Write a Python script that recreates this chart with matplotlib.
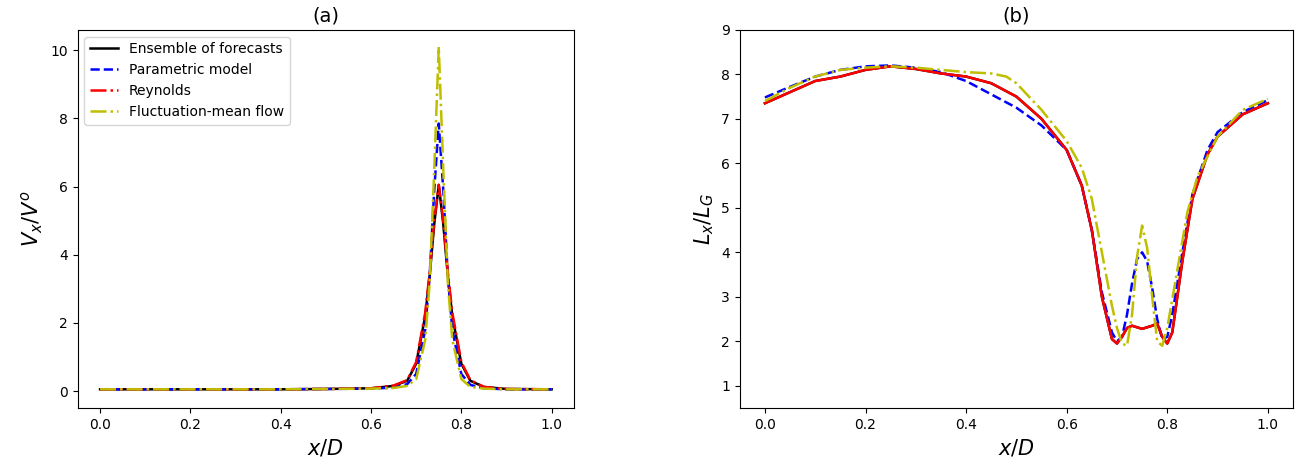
import matplotlib
matplotlib.use("Agg")
import matplotlib.pyplot as plt

# Panel (a)
xa = [0, 0.1, 0.2, 0.3, 0.4, 0.5, 0.6, 0.65, 0.68, 0.70, 0.72, 0.73, 0.74, 0.75, 0.76, 0.77, 0.78, 0.80, 0.82, 0.85, 0.9, 1.0]
ens_a = [0.05, 0.05, 0.05, 0.05, 0.05, 0.06, 0.08, 0.15, 0.3, 0.8, 2.2, 3.4, 4.9, 6.05, 4.9, 3.4, 2.2, 0.8, 0.3, 0.12, 0.06, 0.05]
par_a = [0.05, 0.05, 0.05, 0.05, 0.05, 0.06, 0.07, 0.1, 0.2, 0.5, 1.8, 3.4, 5.9, 7.85, 5.9, 3.4, 1.8, 0.5, 0.18, 0.08, 0.05, 0.05]
rey_a = [0.05, 0.05, 0.05, 0.05, 0.05, 0.06, 0.08, 0.16, 0.32, 0.85, 2.3, 3.5, 5.0, 6.05, 5.0, 3.5, 2.3, 0.85, 0.32, 0.12, 0.06, 0.05]
flu_a = [0.05, 0.05, 0.05, 0.05, 0.05, 0.06, 0.07, 0.09, 0.15, 0.35, 1.5, 3.2, 6.5, 10.1, 6.5, 3.2, 1.5, 0.35, 0.12, 0.07, 0.05, 0.05]

# Panel (b)
xb_e = [0, 0.05, 0.1, 0.15, 0.2, 0.25, 0.3, 0.35, 0.4, 0.45, 0.5, 0.55, 0.6, 0.63, 0.65, 0.67, 0.69, 0.70, 0.71, 0.72, 0.73, 0.75, 0.77, 0.78, 0.79, 0.80, 0.81, 0.83, 0.85, 0.88, 0.9, 0.95, 1.0]
ens_b = [7.35, 7.6, 7.85, 7.95, 8.1, 8.18, 8.12, 8.02, 7.95, 7.8, 7.5, 7.0, 6.3, 5.5, 4.5, 3.0, 2.05, 1.95, 2.1, 2.3, 2.35, 2.28, 2.35, 2.4, 2.1, 1.95, 2.2, 3.8, 5.2, 6.2, 6.6, 7.1, 7.35]
rey_b = ens_b
xb_p = [0, 0.05, 0.1, 0.15, 0.2, 0.25, 0.3, 0.35, 0.4, 0.45, 0.5, 0.55, 0.6, 0.63, 0.65, 0.67, 0.69, 0.70, 0.71, 0.72, 0.73, 0.74, 0.75, 0.76, 0.77, 0.78, 0.79, 0.80, 0.81, 0.83, 0.85, 0.88, 0.9, 0.95, 1.0]
par_b = [7.48, 7.72, 7.95, 8.1, 8.18, 8.2, 8.15, 8.05, 7.85, 7.55, 7.25, 6.85, 6.3, 5.5, 4.5, 3.1, 2.2, 2.0, 2.1, 2.6, 3.3, 3.85, 4.0, 3.8, 3.2, 2.5, 2.05, 2.1, 2.6, 4.0, 5.3, 6.3, 6.7, 7.15, 7.42]
xb_f = [0, 0.05, 0.1, 0.15, 0.2, 0.25, 0.3, 0.35, 0.4, 0.45, 0.48, 0.5, 0.55, 0.6, 0.63, 0.65, 0.67, 0.69, 0.70, 0.71, 0.72, 0.73, 0.74, 0.75, 0.76, 0.77, 0.78, 0.79, 0.80, 0.82, 0.84, 0.86, 0.9, 0.95, 1.0]
flu_b = [7.4, 7.7, 7.95, 8.1, 8.15, 8.18, 8.15, 8.1, 8.05, 8.02, 7.95, 7.8, 7.2, 6.5, 5.9, 5.2, 4.0, 2.8, 2.3, 1.95, 1.9, 2.6, 3.9, 4.6, 4.1, 3.0, 2.0, 1.9, 2.3, 3.6, 4.9, 5.7, 6.6, 7.2, 7.45]

labels = ["Ensemble of forecasts", "Parametric model", "Reynolds", "Fluctuation-mean flow"]

fig = plt.figure(figsize=(13.14, 4.59), dpi=100)
ax1 = fig.add_axes([0.059, 0.111, 0.378, 0.824])
ax2 = fig.add_axes([0.563, 0.111, 0.421, 0.824])

ax1.plot(xa, ens_a, color="black", lw=1.8, label=labels[0])
ax1.plot(xa, par_a, color="blue", ls="--", lw=1.8, label=labels[1])
ax1.plot(xa, rey_a, color="red", ls="-.", lw=1.8, label=labels[2])
ax1.plot(xa, flu_a, color="y", ls="-.", lw=1.8, label=labels[3])
ax1.set_xlim(-0.05, 1.05)
ax1.set_ylim(-0.5, 10.6)
ax1.set_title("(a)", fontsize=14)
ax1.set_xlabel("$x/D$", fontsize=15)
ax1.set_ylabel("$V_x/V^o$", fontsize=15)
ax1.legend(loc="upper left", fontsize=10)

ax2.plot(xb_e, ens_b, color="black", lw=1.8)
ax2.plot(xb_p, par_b, color="blue", ls="--", lw=1.8)
ax2.plot(xb_e, rey_b, color="red", ls="-", lw=1.8)
ax2.plot(xb_f, flu_b, color="y", ls="-.", lw=1.8)
ax2.set_xlim(-0.05, 1.05)
ax2.set_ylim(0.5, 9)
ax2.set_title("(b)", fontsize=14)
ax2.set_xlabel("$x/D$", fontsize=15)
ax2.set_ylabel("$L_x/L_G$", fontsize=15)

fig.savefig("out.png", dpi=100)
